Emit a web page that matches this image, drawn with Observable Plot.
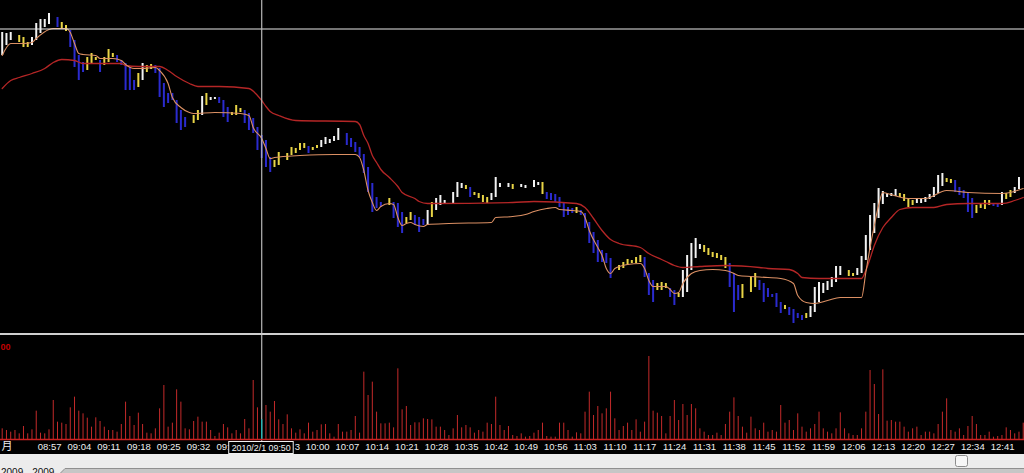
<!DOCTYPE html>
<html><head><meta charset="utf-8">
<script src="https://cdn.jsdelivr.net/npm/d3@7"></script>
<script src="https://cdn.jsdelivr.net/npm/@observablehq/plot@0.6"></script>
<style>
html,body{margin:0;padding:0;background:#000;width:1024px;height:473px;overflow:hidden}
#sep{height:2px;background:#cfcfcf}
#strip{height:19px;overflow:hidden}
#strip svg{display:block}
</style></head><body>
<div id="price"></div><div id="sep"></div><div id="vol"></div>
<div id="strip"><svg width="1024" height="19">
<rect width="1024" height="19" fill="#ececec"/>
<path d="M60,19.5 L65,14.5 L1024.5,14.5 L1024.5,19.5 Z" fill="#c6c6c6" stroke="#8f8f8f"/>
<rect x="955.5" y="1.5" width="12" height="11" rx="2" fill="#f6f6f6" stroke="#8c8c8c"/>
<text x="1" y="22" font-size="10" font-family="Liberation Sans, Arial, sans-serif" fill="#111">2009 - 2009</text>
</svg></div>
<script>
// ---- data (one bar per minute, bar 0 = 08:49) ----
const firstBarTime = "08:49";
const barTone =
  "WWW-YYYWWW" + "WW-BYYBBBB" + "YYYBYYYBBB" + "BBYWYYBBBB" + "BBBB-YYWYW" +
  "WBBBYYYBBB" + "BBBBYY-YYY" + "YYBYYWWWWW" + "-BBBBBBBBB" + "-YBBBYYBBB" +
  "WYWWW-WWWY" + "BYYYYWWW-W" + "Y-WW-WWYBB" + "BBBBBYBBBB" + "BBBB-YYYYY" +
  "YBBBYYYBBY" + "WWWWWYYYYY" + "YBBBY-YYBB" + "BBBBYBBBBY" + "WWWWWWWW-Y" +
  "YWWWWWWWWW" + "WYYYYWWWWW" + "WWYYBBBBBY" + "YYYBBWYYWW" + "-";
const barHigh = [
  298,297,298,null,295,293,288,293,307,311,
  311,317,null,313,308,305,300,290,275,268,
  273,277,273,270,273,281,277,275,270,267,
  263,250,257,267,265,266,265,262,247,237,
  237,230,220,213,null,215,220,234,237,233,
  233,233,230,223,218,225,222,220,217,212,
  203,195,190,173,170,178,null,177,183,182,
  187,187,184,183,185,190,193,191,194,202,
  null,197,192,188,183,176,163,147,133,128,
  null,132,128,127,118,113,118,115,113,111,
  120,128,132,135,130,null,138,148,147,145,
  143,138,137,135,133,137,153,147,null,147,
  146,null,146,145,null,150,148,148,138,137,
  136,133,128,123,122,123,120,117,108,98,
  90,80,77,72,null,65,68,71,70,73,
  75,73,57,50,47,48,47,42,40,37,
  60,75,87,92,86,85,82,78,77,75,
  73,67,57,45,46,null,53,57,50,47,
  42,36,37,28,25,23,21,17,15,17,
  24,43,48,47,49,53,64,64,null,60,
  57,62,74,95,115,127,142,139,137,137,
  141,137,136,132,130,131,132,133,136,143,
  155,157,152,151,150,143,140,137,132,125,
  127,130,130,127,127,138,137,140,143,153,
  null];
const barLow = [
  275,285,290,null,288,283,283,285,290,297,
  303,306,null,303,302,299,283,263,250,258,
  260,267,270,258,265,268,273,268,265,240,
  240,240,243,250,258,261,257,233,223,227,
  230,207,200,203,null,207,210,215,225,230,
  231,227,213,208,215,215,218,207,200,197,
  180,172,163,158,163,165,null,170,175,177,
  180,182,177,180,182,183,186,187,189,190,
  null,185,183,178,173,157,138,118,122,123,
  null,125,112,103,97,107,110,105,98,105,
  105,113,120,125,127,null,127,133,142,141,
  133,135,132,128,127,130,133,143,null,143,
  141,null,143,142,null,143,145,136,131,130,
  128,123,113,115,117,117,115,102,87,77,
  68,68,67,52,null,60,62,65,67,67,
  68,53,35,28,40,40,42,33,25,33,
  33,38,60,72,81,78,75,73,72,70,
  62,43,18,30,32,null,38,43,40,28,
  33,33,23,17,21,15,7,12,10,12,
  13,18,28,37,40,43,48,55,null,54,
  54,55,57,70,80,97,112,126,133,134,
  134,133,129,123,125,127,127,128,131,133,
  137,144,148,147,138,135,132,118,112,117,
  122,121,125,124,123,125,131,133,137,141,
  null];
const volume = [
  32,27,22,27,17,39,17,29,85,19,
  17,29,117,52,49,45,95,127,85,77,
  64,37,65,54,37,27,27,22,45,112,
  69,42,79,45,19,17,32,92,162,37,
  49,149,112,32,29,54,67,52,52,27,
  9,19,45,35,17,27,17,60,32,177,
  95,59,102,82,114,59,45,74,32,19,
  29,17,49,22,27,44,45,17,7,45,
  22,22,27,69,19,202,132,172,82,47,
  47,49,35,212,89,99,42,50,50,62,
  60,59,37,37,27,12,32,72,35,42,
  35,19,27,22,49,45,127,42,27,39,
  12,9,17,7,9,19,27,49,9,7,
  7,49,49,27,7,20,17,82,142,72,
  99,77,92,142,62,27,39,49,27,59,
  22,52,249,85,79,69,17,69,117,57,
  105,72,105,92,32,22,12,12,19,12,
  45,82,125,69,37,19,67,32,27,49,
  22,27,22,102,49,57,27,77,37,22,
  32,45,82,32,22,17,32,80,32,17,
  12,12,32,82,207,165,75,209,55,57,
  52,52,37,22,32,37,12,22,22,17,
  45,82,122,27,22,32,12,39,69,45,
  12,12,22,7,9,12,35,27,17,22,
  49];
// fast (salmon) and slow (red) indicator lines: [bar, level]
const fastLine = [[0,275],[2,287],[5,287],[7,288],[8,292],[11,301],[12,302],[15,302],[16,298],[17,287],[18,277],[19,276],[22,275],[23,272],[26,272],[28,270],[29,266],[31,262],[33,262],[36,263],[37,260],[39,247],[40,233],[42,223],[44,218],[45,217],[50,218],[56,217],[58,215],[59,203],[61,192],[62,182],[63,172],[64,173],[66,174],[70,175],[78,176],[83,176],[84,173],[85,160],[86,140],[87,128],[88,120],[89,124],[91,127],[92,126],[93,113],[94,105],[95,107],[96,108],[97,106],[99,104],[100,106],[105,107],[115,108],[116,113],[120,114],[123,116],[125,119],[128,122],[130,123],[131,121],[134,120],[136,119],[137,113],[138,100],[140,83],[141,75],[142,62],[143,57],[144,62],[147,66],[150,67],[151,62],[152,50],[153,44],[156,44],[157,41],[158,37],[159,38],[160,47],[162,57],[164,60],[167,61],[170,60],[172,57],[173,55],[176,54],[180,53],[183,52],[186,47],[187,35],[189,28],[191,27],[194,30],[197,33],[202,33],[203,58],[204,83],[205,105],[206,125],[207,138],[208,137],[213,132],[217,132],[222,140],[227,138],[235,137],[240,142]];
const slowLine = [[0,242],[2,250],[4,253],[7,257],[10,262],[12,268],[14,271],[17,270],[19,267],[23,267],[28,267],[29,265],[32,264],[37,264],[39,260],[41,254],[44,247],[46,244],[51,244],[58,242],[60,235],[61,230],[62,224],[63,219],[65,215],[69,210],[83,209],[84,206],[85,195],[86,187],[87,175],[88,168],[89,161],[91,153],[93,144],[94,138],[97,132],[98,129],[100,127],[120,128],[125,129],[135,127],[137,123],[139,112],[141,100],[143,91],[145,87],[150,83],[152,77],[155,71],[156,69],[158,65],[160,63],[164,64],[170,65],[178,63],[180,62],[185,61],[187,57],[188,53],[192,52],[202,52],[203,60],[204,72],[205,85],[207,103],[209,113],[211,121],[214,123],[219,123],[222,126],[227,127],[235,127],[238,130],[240,133]];
const timeLabels = ["08:57","09:04","09:11","09:18","09:25","09:32","09:39","09:46","09:53","10:00","10:07","10:14","10:21","10:28","10:35","10:42","10:49","10:56","11:03","11:10","11:17","11:24","11:31","11:38","11:45","11:52","11:59","12:06","12:13","12:20","12:27","12:34","12:41"];
const cursorLabel = "2010/2/1 09:50";
const refLevel = 301.5;

// ---- helpers ----
const toMin = t => { const [h, m] = t.split(":").map(Number); return h * 60 + m; };
const barOf = t => toMin(t) - toMin(firstBarTime);
const cursorBar = barOf(cursorLabel.split(" ")[1]);
const toneColor = {W: "#f2f2f2", Y: "#e8d446", B: "#2b2bcf"};
const bars = d3.range(barHigh.length).filter(i => barHigh[i] != null)
  .map(i => ({i, hi: barHigh[i], lo: barLow[i], tone: barTone[i]}));
const volData = volume.map((v, i) => ({i, v}));
const xDomain = [-0.4, 240.3];
const font = "Liberation Sans, Arial, sans-serif";

// tick labels hidden by the cursor date box are clipped to their visible characters
const xpx = d3.scaleLinear(xDomain, [0, 1024]);
const boxL = xpx(cursorBar) - 32.5, boxR = xpx(cursorBar) + 32;
const cw = c => c === ":" ? 2.5 : 4.2;
const ticks = [];
for (const t of timeLabels) {
  const s = xpx(barOf(t)) + 1.5, e = s + 19.3;
  if (e <= boxL || s >= boxR) { ticks.push({x: xpx.invert(s), text: t, w: 19.3}); continue; }
  if (s < boxL) {
    let w = 0, k = 0;
    while (k < t.length && w + cw(t[k]) <= boxL - s - 0.5) { w += cw(t[k]); k++; }
    if (k > 0) ticks.push({x: xpx.invert(s), text: t.slice(0, k), w});
  } else if (e > boxR) {
    let w = 0, k = t.length;
    while (k > 0 && w + cw(t[k - 1]) <= e - boxR + 3.5) { w += cw(t[k - 1]); k--; }
    if (k < t.length) ticks.push({x: xpx.invert(boxR + 1), text: t.slice(k), w});
  }
}

const price = Plot.plot({
  width: 1024, height: 333, margin: 0,
  style: {background: "#000", display: "block"},
  x: {domain: xDomain, axis: null},
  y: {domain: [-3, 330], axis: null},
  marks: [
    Plot.ruleX(bars, {x: "i", y1: "lo", y2: "hi", stroke: d => toneColor[d.tone], strokeWidth: 2}),
    Plot.line(slowLine, {x: d => d[0], y: d => d[1], stroke: "#b52626", strokeWidth: 1.3, curve: "monotone-x"}),
    Plot.line(fastLine, {x: d => d[0], y: d => d[1], stroke: "#dc9064", strokeWidth: 1.1, curve: "monotone-x"}),
    Plot.ruleY([refLevel], {stroke: "#e8e8e8", strokeWidth: 1}),
    Plot.ruleX([cursorBar], {stroke: "#b8b8b8", strokeWidth: 1.2})
  ]
});
document.getElementById("price").appendChild(price);

const vol = Plot.plot({
  width: 1024, height: 119, margin: 0,
  style: {background: "#000", display: "block"},
  x: {domain: xDomain, axis: null},
  y: {domain: [0, 300], range: [104, 4], axis: null},
  marks: [
    Plot.ruleX([cursorBar], {stroke: "#b8b8b8", strokeWidth: 1.2}),
    Plot.ruleX(volData.filter(d => d.i !== cursorBar), {x: "i", y1: 0, y2: "v", stroke: "#c42a2a", strokeWidth: 1}),
    Plot.ruleX([volData[cursorBar]], {x: "i", y1: 0, y2: "v", stroke: "#1fb5b5", strokeWidth: 1.3}),
    Plot.ruleY([0], {stroke: "#cc2020", strokeWidth: 1.5}),
    Plot.text(ticks, {x: "x", text: "text", frameAnchor: "bottom", dy: -5, textAnchor: "start", fill: "#efefef", fontSize: 9.5, fontFamily: font, ariaLabel: "time-labels"}),
    Plot.text(["月"], {text: d => d, frameAnchor: "bottom-left", dy: -5, dx: 1, textAnchor: "start", fill: "#efefef", fontSize: 11, fontFamily: "Noto Sans CJK JP"}),
    Plot.text(["00"], {text: d => d, frameAnchor: "top-left", dy: 8, textAnchor: "start", fill: "#c00000", fontSize: 9, fontWeight: "bold", fontFamily: font})
  ]
});
document.getElementById("vol").appendChild(vol);

d3.select(vol).selectAll('g[aria-label="time-labels"] text')
  .each(function(_, k) { d3.select(this).attr("textLength", ticks[k].w).attr("lengthAdjust", "spacingAndGlyphs"); });

const cx = vol.scale("x").apply(cursorBar);
const box = d3.select(vol).append("g");
box.append("rect").attr("x", cx - 32.5).attr("y", 106.5).attr("width", 64.5).attr("height", 12)
  .attr("fill", "#000").attr("stroke", "#f0f0f0").attr("stroke-width", 1);
box.append("text").attr("x", cx).attr("y", 113).attr("dy", "0.32em").attr("text-anchor", "middle")
  .attr("fill", "#f2f2f2").attr("font-size", 9.5).attr("font-family", font)
  .attr("textLength", 59).attr("lengthAdjust", "spacingAndGlyphs").text(cursorLabel);
</script>
</body></html>
